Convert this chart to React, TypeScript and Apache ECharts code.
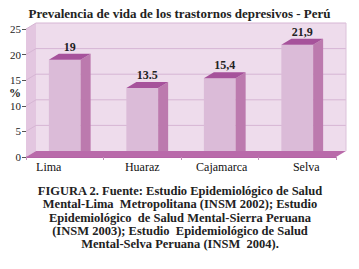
import React, { useEffect, useRef } from "react";
import * as echarts from "echarts";

const categories = ["Lima", "Huaraz", "Cajamarca", "Selva"];
const values = [19, 13.5, 15.4, 21.9];
const valueLabels = ["19", "13.5", "15,4", "21,9"];
const yMin = 0;
const yMax = 25;
const yStep = 5;
const yAxisName = "%";
const titleText = "Prevalencia de vida de los trastornos depresivos - Perú";
const captionLines = [
  "FIGURA 2. Fuente: Estudio Epidemiológico de Salud",
  "Mental-Lima  Metropolitana (INSM 2002); Estudio",
  "Epidemiológico  de Salud Mental-Sierra Peruana",
  "(INSM 2003); Estudio  Epidemiológico de Salud",
  "Mental-Selva Peruana (INSM  2004).",
];

const DX = 10;
const DY = -6;
const SERIF = '"Liberation Serif", "DejaVu Serif", serif';

export default function App() {
  const ref = useRef<HTMLDivElement>(null);

  useEffect(() => {
    if (!ref.current) return;
    const chart = echarts.init(ref.current, null, { renderer: "svg" });

    const ticks: number[] = [];
    for (let v = yMin + yStep; v <= yMax; v += yStep) ticks.push(v);

    const option: any = {
      animation: false,
      backgroundColor: "#ffffff",
      title: {
        text: titleText,
        left: "center",
        top: 6,
        padding: 0,
        textStyle: { fontFamily: SERIF, fontWeight: "bold", fontSize: 13, lineHeight: 15, color: "#222" },
      },
      grid: {
        left: 26,
        right: 23,
        top: 29,
        bottom: 112,
        containLabel: false,
        outerBoundsMode: "none",
      },
      xAxis: {
        type: "category",
        data: categories,
        axisLine: { show: true, lineStyle: { color: "#b464a6", width: 1 } },
        axisTick: { show: true, length: 3, lineStyle: { color: "#c090b8" } },
        axisLabel: {
          interval: 0,
          fontFamily: SERIF,
          fontSize: 12,
          color: "#111",
          margin: 4,
          formatter: (v: string, i: number) => `{c${i}|${v}}`,
          rich: {
            c0: { fontFamily: SERIF, fontSize: 12, color: "#111", padding: [0, 32, 0, 0] },
            c1: { fontFamily: SERIF, fontSize: 12, color: "#111" },
            c2: { fontFamily: SERIF, fontSize: 12, color: "#111", padding: [0, 0, 0, 4] },
            c3: { fontFamily: SERIF, fontSize: 12, color: "#111", padding: [0, 0, 0, 18] },
          },
        },
        splitLine: { show: false },
      },
      yAxis: {
        type: "value",
        min: yMin,
        max: yMax,
        interval: yStep,
        axisLine: { show: true, lineStyle: { color: "#a04a96", width: 1 } },
        axisTick: { show: true, length: 4, lineStyle: { color: "#555" } },
        axisLabel: { fontFamily: SERIF, fontSize: 11, color: "#222", margin: 5 },
        splitLine: { show: false },
      },
      series: [
        {
          type: "custom",
          z: 1,
          silent: true,
          data: [[0, 0]],
          renderItem: (params: any, api: any) => {
            const cs = params.coordSys;
            const L = cs.x, T = cs.y, R = cs.x + cs.width, B = cs.y + cs.height;
            const children: any[] = [
              {
                type: "polygon",
                shape: { points: [[L + DX, T + DY], [R + DX, T + DY], [R + DX, B + DY], [L + DX, B + DY]] },
                style: { fill: "#eedcec" },
              },
              {
                type: "polygon",
                shape: { points: [[L, B], [L, T], [L + DX, T + DY], [L + DX, B + DY]] },
                style: { fill: "#e3c6e0" },
              },
            ];
            ticks.forEach((v) => {
              const y = api.coord([0, v])[1];
              children.push({
                type: "polyline",
                shape: { points: [[L, y], [L + DX, y + DY], [R + DX, y + DY]] },
                style: { stroke: "#d6b6d4", lineWidth: 1, fill: null },
              });
            });
            children.push({
              type: "line",
              shape: { x1: R + DX, y1: T + DY, x2: R + DX, y2: B + DY },
              style: { stroke: "#dcc2da", lineWidth: 1 },
            });
            return { type: "group", children };
          },
        },
        {
          type: "custom",
          z: 2,
          data: values.map((v, i) => [i, v]),
          renderItem: (params: any, api: any) => {
            const idx = api.value(0);
            const top = api.coord([idx, api.value(1)]);
            const base = api.coord([idx, 0]);
            const bandW = api.size([1, 0])[0];
            const w = bandW * 0.41;
            const x0 = top[0] - w / 2;
            const x1 = top[0] + w / 2;
            const yt = top[1];
            const yb = base[1];
            return {
              type: "group",
              children: [
                {
                  type: "rect",
                  shape: { x: x0, y: yt, width: w, height: yb - yt },
                  style: { fill: "#dbbbd8" },
                },
                {
                  type: "polygon",
                  shape: { points: [[x1, yt], [x1 + DX, yt + DY], [x1 + DX, yb + DY], [x1, yb]] },
                  style: { fill: "#bc7aae" },
                },
                {
                  type: "polygon",
                  shape: { points: [[x0, yt], [x0 + DX, yt + DY], [x1 + DX, yt + DY], [x1, yt]] },
                  style: { fill: "#a6529b" },
                },
                {
                  type: "text",
                  style: {
                    text: valueLabels[params.dataIndex],
                    x: top[0] + DX / 2,
                    y: yt + DY - 1,
                    align: "center",
                    verticalAlign: "bottom",
                    font: `bold 12px ${SERIF}`,
                    fill: "#222",
                  },
                },
              ],
            };
          },
        },
        {
          type: "custom",
          z: 3,
          silent: true,
          data: [[0, 0]],
          renderItem: (params: any) => {
            const cs = params.coordSys;
            const L = cs.x, R = cs.x + cs.width, B = cs.y + cs.height;
            return {
              type: "polygon",
              shape: { points: [[L, B], [L + DX, B + DY], [R + DX, B + DY], [R, B]] },
              style: { fill: "#b96aaa" },
            };
          },
        },
      ],
      graphic: [
        {
          type: "text",
          x: 15,
          y: 93,
          style: {
            text: yAxisName,
            x: 0,
            y: 0,
            align: "center",
            verticalAlign: "middle",
            font: `bold 12px ${SERIF}`,
            fill: "#222",
          },
        },
        {
          type: "text",
          x: 180,
          y: 184,
          style: {
            text: captionLines.join("\n"),
            x: 0,
            y: 0,
            align: "center",
            verticalAlign: "top",
            font: `bold 12.5px ${SERIF}`,
            lineHeight: 13.4,
            fill: "#222",
          },
        },
      ],
    };

    chart.setOption(option);
    return () => chart.dispose();
  }, []);

  return (
    <div
      ref={ref}
      style={{ position: "absolute", left: 0, top: 0, width: 359, height: 269 }}
    />
  );
}
